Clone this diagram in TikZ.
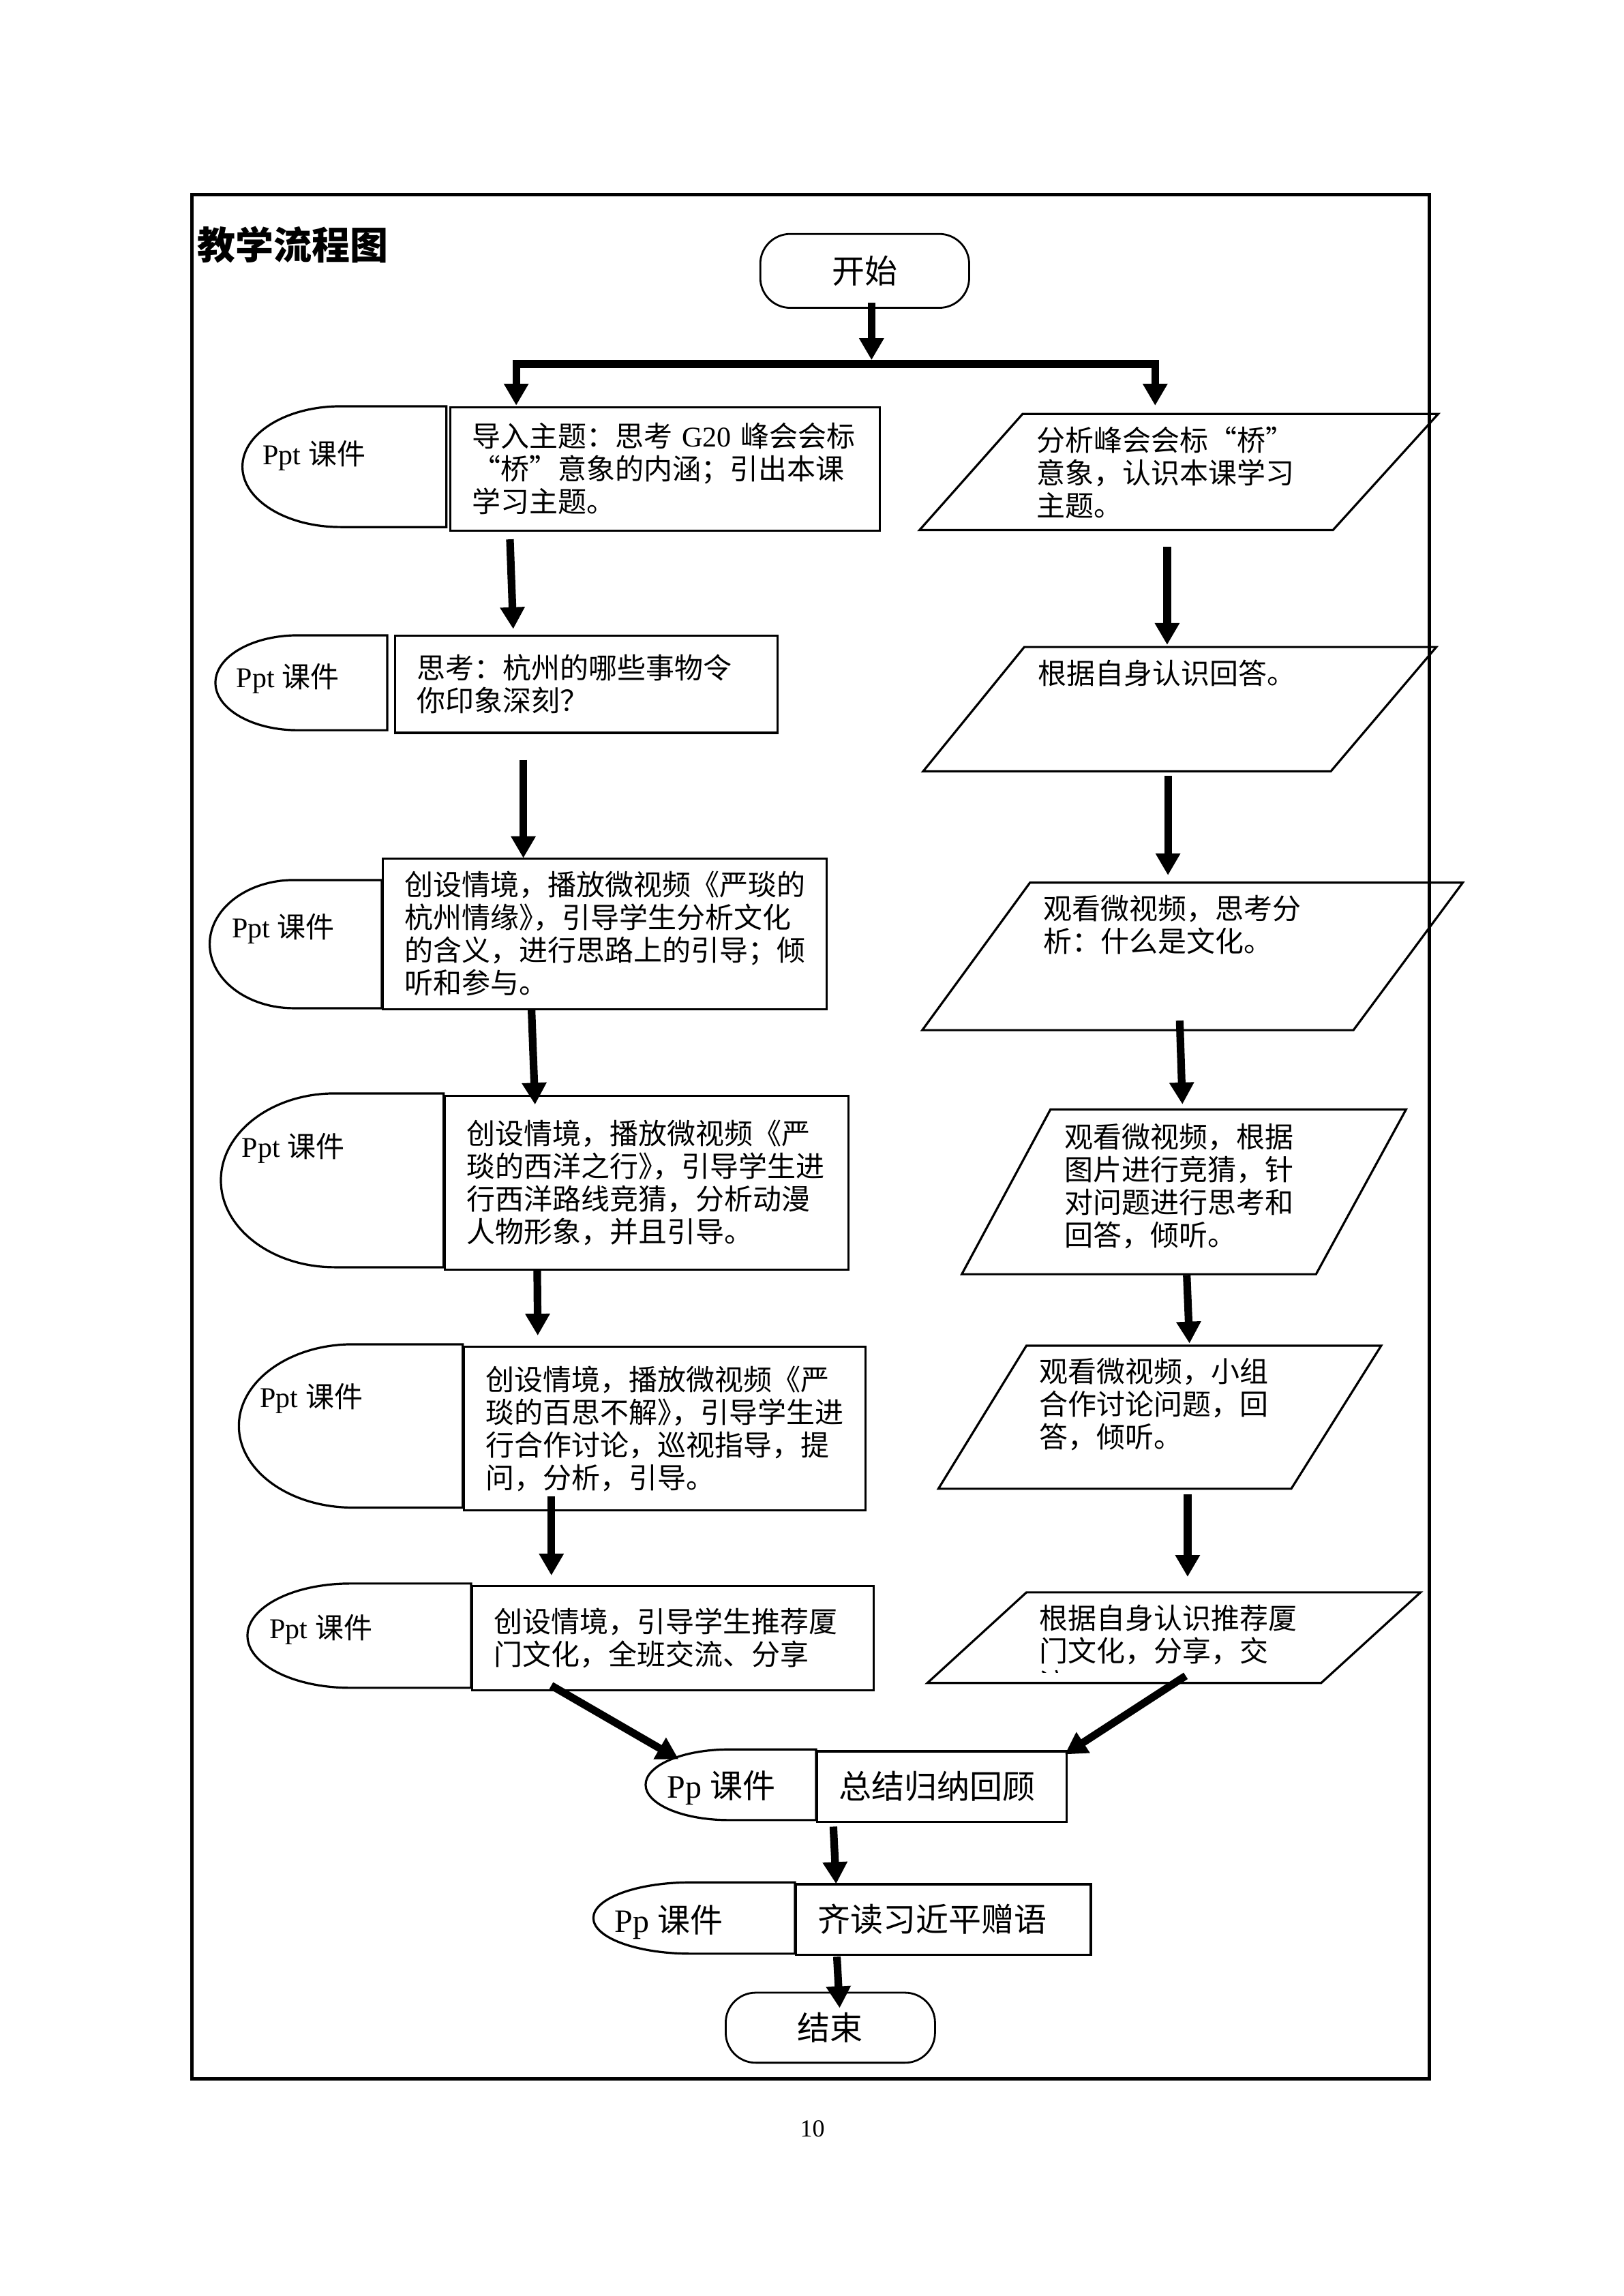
\documentclass[tikz,border=0pt]{standalone}
\usepackage{fontspec}
\setmainfont{Liberation Serif}
\newfontfamily\zh{Noto Sans CJK SC}
\newfontfamily\en{Liberation Serif}
\usetikzlibrary{arrows.meta,calc}

\begin{document}
\begin{tikzpicture}
[every node/.style={inner sep=0pt},
 >={Triangle[width=8.6pt,length=8pt]},
 flow/.style={line width=2.8pt, ->},
 terminal/.style={draw, line width=0.7pt, rounded corners=11pt, font=\zh\fontsize{12pt}{14pt}\selectfont},
 actbox/.style={draw, line width=0.8pt, anchor=north west, inner xsep=8pt, align=left, font=\zh\fontsize{10.5pt}{12pt}\selectfont},
 bigbox/.style={actbox, font=\zh\fontsize{12pt}{14pt}\selectfont},
 answer/.style={anchor=north west},
 anstext/.style={anchor=base west, text width=110pt, align=left, font=\zh\fontsize{10.5pt}{12pt}\selectfont},
 medialabel/.style={anchor=west, font=\zh\fontsize{10.5pt}{12pt}\selectfont},
 bigmedialabel/.style={medialabel, font=\zh\fontsize{12pt}{14pt}\selectfont},
 mediacap/.style={line width=0.8pt},
 ansline/.style={line width=0.8pt}]
\path [use as bounding box, fill=white] (0,0) rectangle (595.28pt,-842.05pt);

% frame and title
\draw [line width=1.3pt] (70.4pt,-71.4pt) rectangle (524.2pt,-762.5pt);
\node (title) [anchor=west, font=\zh\bfseries\fontsize{14pt}{16pt}\selectfont] at (72.3pt,-89.8pt) {教学流程图};
\node (pageno) [font=\en\fontsize{9pt}{11pt}\selectfont] at (297.9pt,-780.6pt) {10};

\node (start) [terminal, minimum width=76.6pt, minimum height=27.1pt] at (317.1pt,-99.35pt) {开始};
\coordinate (fork) at (319.6pt,-133.5pt);

% teacher side
\node (act1) [actbox, text width=141.6pt, minimum height=45.2pt] at (164.7pt,-149pt) {导入主题：思考{\en~G20~}峰会会标\\“桥”意象的内涵；引出本课\\学习主题。};
\node (act2) [actbox, text width=124.2pt, minimum height=35.6pt] at (144.5pt,-232.75pt) {思考：杭州的哪些事物令\\你印象深刻？};
\node (act3) [actbox, text width=146.7pt, minimum height=55.3pt] at (140pt,-314.4pt) {创设情境，播放微视频《严琰的\\杭州情缘》\kern-.5em，引导学生分析文化\\的含义，进行思路上的引导；倾\\听和参与。};
\node (act4) [actbox, text width=131.95pt, minimum height=63.75pt] at (162.7pt,-401.5pt) {创设情境，播放微视频《严\\琰的西洋之行》\kern-.5em，引导学生进\\行西洋路线竞猜，分析动漫\\人物形象，并且引导。};
\node (act5) [actbox, text width=131.3pt, minimum height=60pt] at (169.7pt,-493.5pt) {创设情境，播放微视频《严\\琰的百思不解》\kern-.5em，引导学生进\\行合作讨论，巡视指导，提\\问，分析，引导。};
\node (act6) [actbox, text width=131.25pt, minimum height=38.25pt] at (172.75pt,-581.25pt) {创设情境，引导学生推荐厦\\门文化，全班交流、分享};
\node (sum) [bigbox, text width=75.45pt, minimum height=25.85pt] at (299.25pt,-641.9pt) {总结归纳回顾};
\node (read) [bigbox, text width=92.1pt, minimum height=25.85pt] at (291.5pt,-690.65pt) {齐读习近平赠语};
\node (finish) [terminal, minimum width=76.75pt, minimum height=25.7pt] at (304.5pt,-743.65pt) {结束};

% media caps
\draw [mediacap] (163.7pt,-149pt) -- (124.9pt,-149pt) arc [start angle=90, end angle=270, x radius=36pt, y radius=22.15pt] -- (163.7pt,-193.3pt) -- cycle;
\draw [mediacap] (142pt,-233pt) -- (109.2pt,-233pt) arc [start angle=90, end angle=270, x radius=30.2pt, y radius=17.4pt] -- (142pt,-267.8pt) -- cycle;
\draw [mediacap] (140pt,-322.75pt) -- (107.7pt,-322.75pt) arc [start angle=90, end angle=270, x radius=30.8pt, y radius=23.5pt] -- (140pt,-369.75pt) -- cycle;
\draw [mediacap] (162.7pt,-401pt) -- (122.75pt,-401pt) arc [start angle=90, end angle=270, x radius=41.75pt, y radius=31.875pt] -- (162.7pt,-464.75pt) -- cycle;
\draw [mediacap] (169.7pt,-493pt) -- (129.4pt,-493pt) arc [start angle=90, end angle=270, x radius=41.8pt, y radius=29.95pt] -- (169.7pt,-552.9pt) -- cycle;
\draw [mediacap] (172.75pt,-580.75pt) -- (128.5pt,-580.75pt) arc [start angle=90, end angle=270, x radius=37.75pt, y radius=19.125pt] -- (172.75pt,-619pt) -- cycle;
\draw [mediacap] (299.25pt,-641.6pt) -- (267.25pt,-641.6pt) arc [start angle=90, end angle=270, x radius=30.5pt, y radius=12.95pt] -- (299.25pt,-667.5pt) -- cycle;
\draw [mediacap] (291.5pt,-690.35pt) -- (253.25pt,-690.35pt) arc [start angle=90, end angle=270, x radius=35.65pt, y radius=13.075pt] -- (291.5pt,-716.5pt) -- cycle;
\node (ppt1) [medialabel] at (96.2pt,-167pt) {{\en Ppt }课件};
\node (ppt2) [medialabel] at (86.5pt,-248.9pt) {{\en Ppt }课件};
\node (ppt3) [medialabel] at (84.9pt,-340.7pt) {{\en Ppt }课件};
\node (ppt4) [medialabel] at (88.5pt,-421.2pt) {{\en Ppt }课件};
\node (ppt5) [medialabel] at (95.2pt,-513pt) {{\en Ppt }课件};
\node (ppt6) [medialabel] at (98.7pt,-597.6pt) {{\en Ppt }课件};
\node (pp7) [bigmedialabel] at (244.4pt,-655.6pt) {{\en Pp }课件};
\node (pp8) [bigmedialabel] at (225.25pt,-704.9pt) {{\en Pp }课件};

% student side
\node (ans1) [answer, minimum width=189.8pt, minimum height=42.2pt] at (337.2pt,-151.8pt) {};
\draw [ansline] (ans1.south west) -- ([xshift=37.8pt]ans1.north west) -- (ans1.north east) -- ([xshift=-38.6pt]ans1.south east) -- cycle;
\node (ans1txt) [anstext] at (379.9pt,-165.3pt) {分析峰会会标“桥”\\意象，认识本课学习\\主题。};
\node (ans2) [answer, minimum width=187.8pt, minimum height=45.2pt] at (338.5pt,-237.3pt) {};
\draw [ansline] (ans2.south west) -- ([xshift=37.1pt]ans2.north west) -- (ans2.north east) -- ([xshift=-38.7pt]ans2.south east) -- cycle;
\node (ans2txt) [anstext] at (380.5pt,-250.9pt) {根据自身认识回答。};
\node (ans3) [answer, minimum width=197.8pt, minimum height=53.7pt] at (338.2pt,-323.7pt) {};
\draw [ansline] (ans3.south west) -- ([xshift=39.5pt]ans3.north west) -- (ans3.north east) -- ([xshift=-40.1pt]ans3.south east) -- cycle;
\node (ans3txt) [anstext] at (382.4pt,-337.2pt) {观看微视频，思考分\\析：什么是文化。};
\node (ans4) [answer, minimum width=162.5pt, minimum height=60pt] at (352.7pt,-406.9pt) {};
\draw [ansline] (ans4.south west) -- ([xshift=32.5pt]ans4.north west) -- (ans4.north east) -- ([xshift=-33pt]ans4.south east) -- cycle;
\node (ans4txt) [anstext] at (390.3pt,-420.9pt) {观看微视频，根据\\图片进行竞猜，针\\对问题进行思考和\\回答，倾听。};
\node (ans5) [answer, minimum width=162pt, minimum height=52.1pt] at (344.1pt,-493.5pt) {};
\draw [ansline] (ans5.south west) -- ([xshift=32.3pt]ans5.north west) -- (ans5.north east) -- ([xshift=-33pt]ans5.south east) -- cycle;
\node (ans5txt) [anstext] at (381pt,-507pt) {观看微视频，小组\\合作讨论问题，回\\答，倾听。};
\node (ans6) [answer, minimum width=180.4pt, minimum height=32.8pt] at (340.1pt,-584pt) {};
\draw [ansline] (ans6.south west) -- ([xshift=36.3pt]ans6.north west) -- (ans6.north east) -- ([xshift=-36.4pt]ans6.south east) -- cycle;
\begin{scope}
\clip (338pt,-580pt) rectangle (530pt,-613.4pt);
\node (ans6txt) [anstext] at (381pt,-597.3pt) {根据自身认识推荐厦\\门文化，分享，交\\流。};
\end{scope}

% arrows
\draw [flow] ($(start.south)+(2.5pt,2.2pt)$) -- ($(fork)+(0,1.45pt)$);
\draw [flow, <->] ($(act1.north west)+(24.6pt,0.3pt)$) |- (fork) -| ($(ans1.north west)+(86.4pt,3.05pt)$);
\draw [flow] ($(act1.south west)+(22.3pt,-2.8pt)$) -- ($(act2.north west)+(43.7pt,2.05pt)$);
\draw [flow] ($(act2.south west)+(47.4pt,-9.55pt)$) -- ($(act3.north west)+(51.9pt,-0.3pt)$);
\draw [flow] ($(act3.south west)+(54.9pt,0.5pt)$) -- ($(act4.north west)+(33.5pt,-3.6pt)$);
\draw [flow] ($(act4.south west)+(34.3pt,0pt)$) -- ($(act5.north west)+(27.5pt,3.7pt)$);
\draw [flow] ($(act5.south west)+(32.5pt,5.5pt)$) -- ($(act6.north west)+(29.45pt,3.45pt)$);
\draw [flow] ($(act6.south west)+(29.4pt,2.15pt)$) -- ($(sum.north west)+(-50.4pt,-3.3pt)$);
\draw [flow] ($(ans1.south west)+(90.8pt,-6.2pt)$) -- ($(ans2.north west)+(89.5pt,0.8pt)$);
\draw [flow] ($(ans2.south west)+(89.8pt,-1.7pt)$) -- ($(ans3.north west)+(90.1pt,2.7pt)$);
\draw [flow] ($(ans3.south west)+(94.4pt,3.5pt)$) -- ($(ans4.north west)+(80.9pt,1.9pt)$);
\draw [flow] ($(ans4.south west)+(82.5pt,-0.3pt)$) -- ($(ans5.north west)+(92.1pt,0.8pt)$);
\draw [flow] ($(ans5.south west)+(91.4pt,-2.1pt)$) -- ($(ans6.north west)+(95.4pt,5.7pt)$);
\draw [flow] ($(ans6.south west)+(94.7pt,2.6pt)$) -- ($(sum.north east)+(-1pt,-1.5pt)$);
\draw [flow] ($(sum.south west)+(6.35pt,-1.35pt)$) -- ($(read.north west)+(15.1pt,-0.25pt)$);
\draw [flow] ($(read.south west)+(15.4pt,-0.3pt)$) -- ($(finish.north)+(3.4pt,-6pt)$);
\end{tikzpicture}
\end{document}
